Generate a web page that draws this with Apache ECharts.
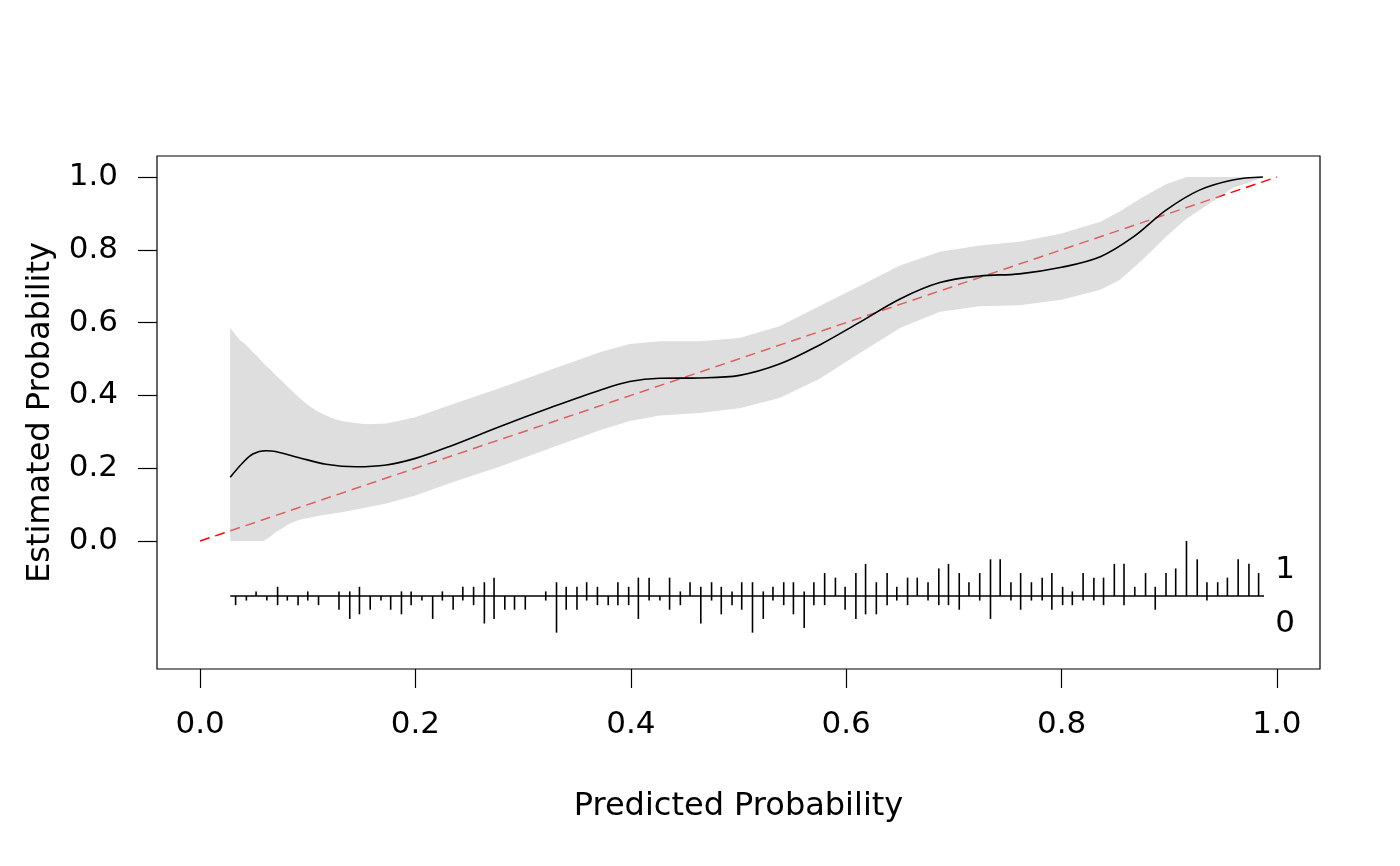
<!DOCTYPE html>
<html>
<head>
<meta charset="utf-8">
<script src="https://cdn.jsdelivr.net/npm/echarts@6/dist/echarts.min.js"></script>
<style>
  html, body { margin: 0; padding: 0; background: #fff; }
  #chart { width: 1400px; height: 866px; }
</style>
</head>
<body>
<div id="chart"></div>
<script>
// ---------------- data ----------------
const xTicks = [0, 0.2, 0.4, 0.6, 0.8, 1.0];
const yTicks = [0, 0.2, 0.4, 0.6, 0.8, 1.0];

// ideal calibration line
const idealX = [0, 1];
const idealY = [0, 1];

// smoothed calibration curve
const curveX = [0.028, 0.039, 0.049, 0.061, 0.070, 0.092, 0.117, 0.145, 0.173, 0.200,
                0.231, 0.278, 0.325, 0.372, 0.399, 0.427, 0.464, 0.501, 0.538, 0.575,
                0.612, 0.650, 0.687, 0.724, 0.761, 0.800, 0.836, 0.867, 0.897, 0.928,
                0.959, 0.987];
const curveY = [0.175, 0.213, 0.239, 0.248, 0.246, 0.229, 0.211, 0.204, 0.209, 0.227,
                0.259, 0.314, 0.366, 0.415, 0.438, 0.447, 0.448, 0.455, 0.486, 0.538,
                0.600, 0.665, 0.710, 0.728, 0.734, 0.752, 0.781, 0.836, 0.909, 0.964,
                0.992, 1.000];

// confidence band
const bandX     = [0.028, 0.033, 0.037, 0.043, 0.048, 0.054, 0.059, 0.065, 0.070, 0.077,
                   0.083, 0.092, 0.100, 0.108, 0.116, 0.123, 0.131, 0.139, 0.154, 0.173,
                   0.200, 0.231, 0.278, 0.325, 0.372, 0.399, 0.427, 0.464, 0.501, 0.538,
                   0.575, 0.612, 0.650, 0.687, 0.724, 0.761, 0.800, 0.836, 0.854, 0.876,
                   0.897, 0.916, 0.928, 0.959, 0.989];
const bandUpper = [0.586, 0.566, 0.552, 0.538, 0.522, 0.505, 0.488, 0.472, 0.456, 0.437,
                   0.419, 0.394, 0.374, 0.358, 0.346, 0.337, 0.330, 0.326, 0.321, 0.323,
                   0.340, 0.372, 0.420, 0.470, 0.519, 0.541, 0.549, 0.549, 0.558, 0.590,
                   0.645, 0.700, 0.757, 0.795, 0.812, 0.822, 0.845, 0.877, 0.905, 0.946,
                   0.980, 1.000, 1.000, 1.000, 1.000];
const bandLower = [0.000, 0.000, 0.000, 0.000, 0.000, 0.000, 0.000, 0.012, 0.024, 0.036,
                   0.048, 0.058, 0.063, 0.068, 0.072, 0.075, 0.079, 0.083, 0.092, 0.103,
                   0.125, 0.158, 0.204, 0.255, 0.305, 0.330, 0.345, 0.352, 0.365, 0.393,
                   0.445, 0.515, 0.585, 0.630, 0.645, 0.648, 0.663, 0.690, 0.717, 0.775,
                   0.836, 0.885, 0.909, 0.970, 1.000];

// spike histogram: bin centres of predicted probability, counts of outcome 1 (up) and 0 (down)
const predRange = [0.028, 0.988];
const spikeX = [0.033, 0.043, 0.052, 0.062, 0.072, 0.081, 0.091, 0.100, 0.110, 0.120,
                0.129, 0.139, 0.148, 0.158, 0.168, 0.177, 0.187, 0.196, 0.206, 0.216,
                0.225, 0.235, 0.244, 0.254, 0.264, 0.273, 0.283, 0.292, 0.302, 0.311,
                0.321, 0.331, 0.340, 0.350, 0.359, 0.369, 0.379, 0.388, 0.398, 0.407,
                0.417, 0.427, 0.436, 0.446, 0.455, 0.465, 0.475, 0.484, 0.494, 0.503,
                0.513, 0.523, 0.532, 0.542, 0.551, 0.561, 0.570, 0.580, 0.590, 0.599,
                0.609, 0.618, 0.628, 0.638, 0.647, 0.657, 0.666, 0.676, 0.686, 0.695,
                0.705, 0.714, 0.724, 0.734, 0.743, 0.753, 0.762, 0.772, 0.782, 0.791,
                0.801, 0.810, 0.820, 0.830, 0.839, 0.849, 0.858, 0.868, 0.878, 0.887,
                0.897, 0.906, 0.916, 0.926, 0.935, 0.945, 0.954, 0.964, 0.974, 0.983];
const spikeUp = [0,0,1,0,2,0,0,1,0,0, 1,1,2,0,0,0,1,1,0,0, 1,0,2,2,3,4,0,0,0,0,
                 1,3,2,2,3,2,0,3,2,4, 4,0,4,1,3,2,3,2,1,3, 3,1,2,3,3,1,3,5,4,2,
                 5,7,3,5,2,4,4,3,6,7, 5,3,5,8,8,3,5,3,4,5, 2,1,5,4,4,7,7,2,5,2,
                 5,6,12,8,3,3,4,8,7,5];
const spikeDown = [2,1,0,1,2,1,2,1,2,0, 3,5,4,3,1,3,4,2,1,5, 1,3,1,2,6,5,3,3,3,0,
                   1,8,3,3,1,2,2,2,2,5, 1,1,3,2,0,6,1,4,2,3, 8,5,1,2,4,7,2,2,0,3,
                   5,4,4,2,1,2,0,1,2,2, 3,0,1,5,0,1,3,1,1,3, 2,2,1,1,2,0,2,0,0,3,
                   0,0,0,0,1,0,0,0,0,0];
const spikeLabels = ['1', '0'];

// ---------------- layout constants ----------------
const FONT = 'DejaVu Sans';
const FS = 31;
const FS_TITLE = 32;
const SPIKE_BASE = -0.151;
const SPIKE_UNIT = 0.0126;

const chart = echarts.init(document.getElementById('chart'), null, { renderer: 'canvas' });

const fmt = v => v.toFixed(1);

const option = {
  animation: false,
  backgroundColor: '#ffffff',
  grid: {
    left: 157, top: 156, right: 80, bottom: 197,
    show: true, borderColor: '#000', borderWidth: 1.2, backgroundColor: 'transparent'
  },
  xAxis: {
    type: 'value', min: -0.04, max: 1.04,
    name: 'Predicted Probability', nameLocation: 'middle', nameGap: 122,
    nameTextStyle: { fontFamily: FONT, fontSize: FS_TITLE, color: '#000' },
    axisLine: { show: false, onZero: false },
    axisTick: { show: true, length: 19, customValues: xTicks, lineStyle: { color: '#000', width: 1.2 } },
    axisLabel: { show: true, customValues: xTicks, formatter: fmt, margin: 40,
                 fontFamily: FONT, fontSize: FS, color: '#000' },
    splitLine: { show: false }
  },
  yAxis: {
    type: 'value', min: -0.3516, max: 1.0577,
    name: 'Estimated Probability', nameLocation: 'middle', nameGap: 100,
    nameTextStyle: { fontFamily: FONT, fontSize: FS_TITLE, color: '#000' },
    axisLine: { show: false, onZero: false },
    axisTick: { show: true, length: 19, customValues: yTicks, lineStyle: { color: '#000', width: 1.2 } },
    axisLabel: { show: true, customValues: yTicks, formatter: fmt, margin: 39,
                 fontFamily: FONT, fontSize: FS, color: '#000' },
    splitLine: { show: false }
  },
  series: [
    {
      name: 'ideal', type: 'line', z: 1, symbol: 'none', silent: true,
      data: idealX.map((x, i) => [x, idealY[i]]),
      lineStyle: { color: '#ff0000', width: 1.5, type: [10, 6] }
    },
    {
      name: 'band', type: 'custom', z: 2, silent: true, clip: false,
      data: [[0, 0]],
      renderItem: function (params, api) {
        const pts = [];
        for (let i = 0; i < bandX.length; i++) pts.push(api.coord([bandX[i], bandUpper[i]]));
        for (let i = bandX.length - 1; i >= 0; i--) pts.push(api.coord([bandX[i], bandLower[i]]));
        return { type: 'polygon', shape: { points: pts, smooth: 0 },
                 style: { fill: 'rgba(190,190,190,0.5)', stroke: null } };
      }
    },
    {
      name: 'calibration', type: 'line', z: 3, symbol: 'none', smooth: 0.35, silent: true,
      data: curveX.map((x, i) => [x, curveY[i]]),
      lineStyle: { color: '#000', width: 1.6 }
    },
    {
      name: 'spikes', type: 'custom', z: 4, silent: true, clip: false,
      encode: { x: 0, y: 1 },
      data: spikeX.map((x, i) => [x, spikeUp[i], spikeDown[i]]),
      renderItem: function (params, api) {
        const x = api.value(0), up = api.value(1), dn = api.value(2);
        if (up === 0 && dn === 0) return null;
        const p0 = api.coord([x, SPIKE_BASE + up * SPIKE_UNIT]);
        const p1 = api.coord([x, SPIKE_BASE - dn * SPIKE_UNIT]);
        return { type: 'line', shape: { x1: p0[0], y1: p0[1], x2: p1[0], y2: p1[1] },
                 style: { stroke: '#000', lineWidth: 1.6 } };
      }
    },
    {
      name: 'spikeAxis', type: 'custom', z: 4, silent: true, clip: false,
      data: [[predRange[0], predRange[1]]],
      renderItem: function (params, api) {
        const a = api.coord([api.value(0), SPIKE_BASE]);
        const b = api.coord([api.value(1), SPIKE_BASE]);
        return { type: 'group', children: [
          { type: 'line', shape: { x1: a[0], y1: a[1], x2: b[0], y2: b[1] },
            style: { stroke: '#000', lineWidth: 1.6 } },
          { type: 'text', x: b[0] + 21, y: b[1] - 26,
            style: { text: spikeLabels[0], fontFamily: FONT, fontSize: FS, fill: '#000',
                     align: 'center', verticalAlign: 'middle' } },
          { type: 'text', x: b[0] + 21, y: b[1] + 28,
            style: { text: spikeLabels[1], fontFamily: FONT, fontSize: FS, fill: '#000',
                     align: 'center', verticalAlign: 'middle' } }
        ] };
      }
    }
  ]
};

chart.setOption(option);
</script>
</body>
</html>
